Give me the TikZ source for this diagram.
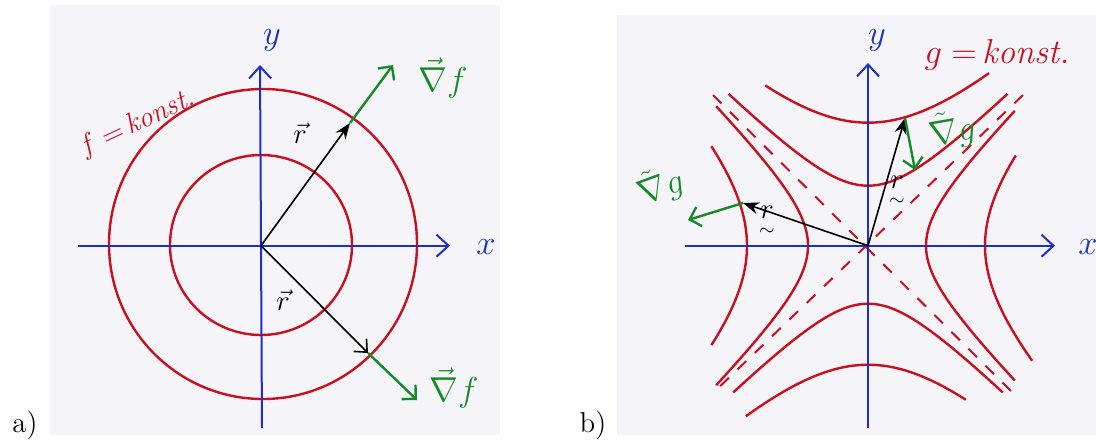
\documentclass[tikz,border=0pt]{standalone}
\usepackage{amsmath}
\usetikzlibrary{arrows.meta}
\definecolor{paper}{HTML}{F5F5F9}
\definecolor{penred}{HTML}{C8101E}
\definecolor{penblue}{HTML}{1E2FC8}
\definecolor{pengreen}{HTML}{168A2A}
\begin{document}
\begin{tikzpicture}[x=0.5pt,y=-0.5pt,
  axis/.style={penblue,line width=1pt,-{Straight Barb[length=6pt,width=11pt]}},
  curve/.style={penred,line width=1.2pt},
  asym/.style={penred,line width=1pt,dash pattern=on 6pt off 6pt},
  rvec/.style={black,line width=0.8pt,-{Stealth[length=8pt,width=6pt]}},
  rvecopen/.style={black,line width=0.8pt,-{Straight Barb[length=5pt,width=9pt]}},
  gvec/.style={pengreen,line width=1.2pt,-{Straight Barb[length=5pt,width=10pt]}},
  axlbl/.style={penblue,font=\LARGE},
  glbl/.style={pengreen,font=\LARGE},
  rlbl/.style={black,font=\Large},
  klbl/.style={penred,font=\Large},
  panel/.style={font=\Large,anchor=base}]
\useasboundingbox (0,0) rectangle (1096,445);
\fill[paper] (50,5) rectangle (500,435);
\fill[paper] (617,15) rectangle (1096,435);

% ---------- panel a ----------
\coordinate (Oa) at (261,245.7);
\coordinate (XaL) at (78,245.7);
\coordinate (XaR) at (450,245.7);
\coordinate (YaB) at (262,428);
\coordinate (YaT) at (260,65);
\draw[curve] (263,244) ellipse [x radius=77pt, y radius=77.5pt];
\draw[curve] (261,245) ellipse [x radius=45.5pt, y radius=45pt];
\draw[axis] (XaL) -- (XaR);
\draw[axis] (YaB) -- (YaT);
\node[axlbl] (xa) at (486,247) {$x$};
\node[axlbl] (ya) at (272,40) {$y$};

\coordinate (Pa1) at (350,123);
\coordinate (Ga1) at (393,65);
\coordinate (Pa2) at (368,353);
\coordinate (Ga2) at (417,400);
\draw[gvec] (Pa1) -- (Ga1);
\draw[rvec] (Oa) -- (Pa1);
\draw[gvec] (Pa2) -- (Ga2);
\draw[rvecopen] (Oa) -- (Pa2);
\node[glbl] (nfa1) at (443,78) {$\vec\nabla f$};
\node[glbl] (nfa2) at (454,388) {$\vec\nabla f$};
\node[rlbl] (ra1) at (300,133) {$\vec r$};
\node[rlbl] (ra2) at (283,300) {$\vec r$};
\node[klbl,rotate=25] (fk) at (137,124) {$f=$\,\textit{konst.}};
\node[panel] (pa) at (25,432) {a)};

% ---------- panel b ----------
\coordinate (Ob) at (868,245.7);
\coordinate (XbL) at (685,245.7);
\coordinate (XbR) at (1055,245.7);
\coordinate (YbB) at (868,428);
\coordinate (YbT) at (868,63);
\coordinate (A1) at (713,95);
\coordinate (A2) at (1018,398);
\coordinate (A3) at (1023,95);
\coordinate (A4) at (713,393);
\draw[asym] (A1) -- (A2);
\draw[asym] (A3) -- (A4);
% hyperbolas opening up / down
\draw[curve] plot[domain=-1.58:1.58,samples=40,smooth] ({868+60*sinh(\x)},{245.7-60*cosh(\x)});
\draw[curve] plot[domain=-0.76:0.87,samples=30,smooth] ({868+123*sinh(\x)},{245.7-123*cosh(\x)});
\draw[curve] plot[domain=-1.58:1.58,samples=40,smooth] ({868+58*sinh(\x)},{245.7+58*cosh(\x)});
\draw[curve] plot[domain=-0.90:0.75,samples=30,smooth] ({868+119*sinh(\x)},{245.7+119*cosh(\x)});
% hyperbolas opening left / right
\draw[curve] plot[domain=-1.58:1.58,samples=40,smooth] ({868-60*cosh(\x)},{245.7+60*sinh(\x)});
\draw[curve] plot[domain=-0.75:0.75,samples=30,smooth] ({868-121*cosh(\x)},{245.7+121*sinh(\x)});
\draw[curve] plot[domain=-1.58:1.58,samples=40,smooth] ({868+58*cosh(\x)},{245.7+58*sinh(\x)});
\draw[curve] plot[domain=-0.71:0.87,samples=30,smooth] ({868+117*cosh(\x)},{245.7+117*sinh(\x)});
\draw[axis] (XbL) -- (XbR);
\draw[axis] (YbB) -- (YbT);
\node[axlbl] (xb) at (1088,247) {$x$};
\node[axlbl] (yb) at (877,40) {$y$};

\coordinate (Pb1) at (905,118);
\coordinate (Gb1) at (915,170);
\coordinate (Pb2) at (743,203);
\coordinate (Gb2) at (688,220);
\draw[rvec] (Ob) -- (Pb1);
\draw[gvec] (Pb1) -- (Gb1);
\draw[rvec] (Ob) -- (Pb2);
\draw[gvec] (Pb2) -- (Gb2);
\node[glbl,rotate=10] (ngb1) at (952,130) {$\tilde\nabla g$};
\node[glbl,rotate=20] (ngb2) at (660,186) {$\tilde\nabla g$};
\node[rlbl] (rb1) at (897,192) {$\underset{\sim}{r}$};
\node[rlbl] (rb2) at (767,222) {$\underset{\sim}{r}$};
\node[klbl,font=\LARGE] (gk) at (997,55) {$g=$\,\textit{konst.}};
\node[panel] (pb) at (593,432) {b)};
\end{tikzpicture}
\end{document}
